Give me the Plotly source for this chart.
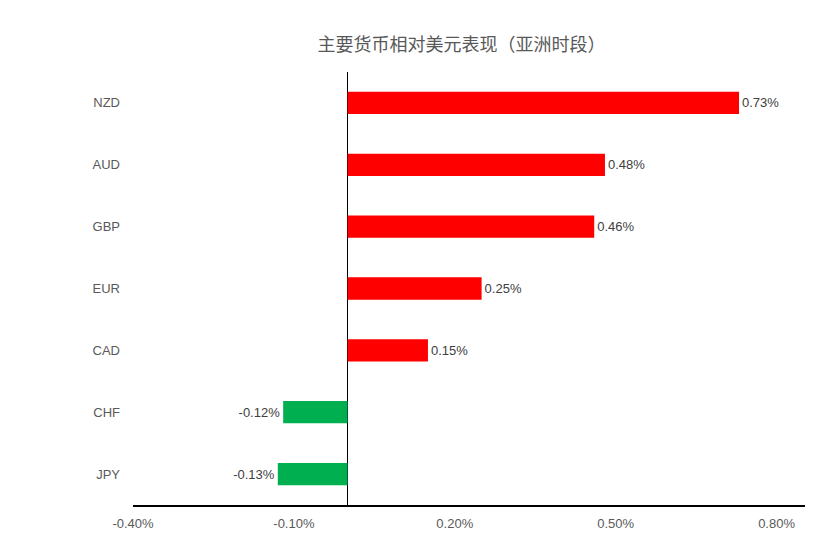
import plotly.graph_objects as go

currencies = ["NZD", "AUD", "GBP", "EUR", "CAD", "CHF", "JPY"]
changes = [0.0073, 0.0048, 0.0046, 0.0025, 0.0015, -0.0012, -0.0013]
tick_vals = [-0.004, -0.001, 0.002, 0.005, 0.008]
tick_text = ["-0.40%", "-0.10%", "0.20%", "0.50%", "0.80%"]

colors = ["#FF0000" if v >= 0 else "#00B050" for v in changes]

fig = go.Figure()
fig.add_trace(go.Bar(
    x=changes,
    y=currencies,
    orientation='h',
    marker=dict(color=colors, line=dict(width=0)),
    texttemplate="%{x:.2%}",
    textposition='outside',
    cliponaxis=False,
    textfont=dict(family="Liberation Sans, Arial", size=13, color="#404040"),
    hoverinfo='skip',
))

# page body has an 8px margin, so the figure is a bit smaller than the window
fig.update_layout(
    title=dict(
        text="主要货币相对美元表现（亚洲时段）",
        x=0.545, xanchor='center', y=0.932, yanchor='middle',
        font=dict(family="Noto Sans CJK SC", size=18, color="#595959"),
    ),
    width=832, height=543,
    margin=dict(l=125, r=35, t=64, b=46),
    paper_bgcolor='white',
    plot_bgcolor='white',
    bargap=0.64,
    showlegend=False,
    xaxis=dict(
        range=[-0.004, 0.00853],
        tickvals=tick_vals,
        ticktext=tick_text,
        showgrid=False,
        zeroline=True,
        zerolinecolor="black",
        zerolinewidth=1,
        showline=True,
        linecolor="black",
        linewidth=1.5,
        ticks='',
        ticklabelstandoff=6,
        tickfont=dict(family="Liberation Sans, Arial", size=13, color="#595959"),
    ),
    yaxis=dict(
        autorange='reversed',
        showgrid=False,
        zeroline=False,
        showline=False,
        ticks='',
        ticklabelstandoff=12,
        tickfont=dict(family="Liberation Sans, Arial", size=13, color="#595959"),
    ),
)

fig.write_html("out.html")
